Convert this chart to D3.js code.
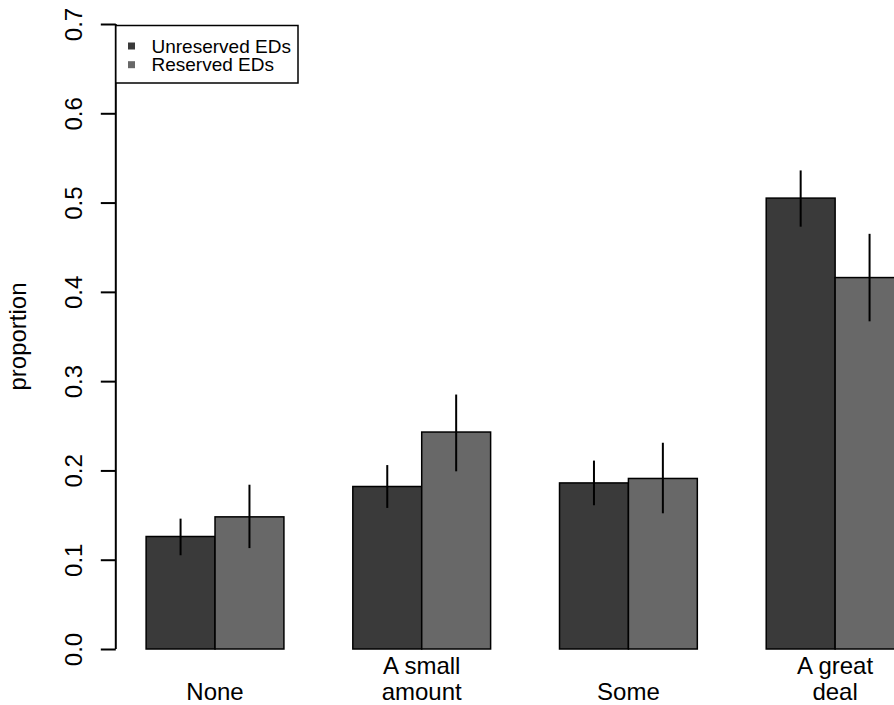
<!DOCTYPE html>
<html>
<head>
<meta charset="utf-8">
<script src="https://cdn.jsdelivr.net/npm/d3@7"></script>
<style>
  html, body { margin: 0; padding: 0; background: #fff; }
  svg { display: block; font-family: "Liberation Sans", Arial, Helvetica, sans-serif; }
</style>
</head>
<body>
<svg id="chart" width="894" height="705"></svg>
<script>
// ---- data ----
const categories = ["None", "A small\namount", "Some", "A great\ndeal"];
const seriesNames = ["Unreserved EDs", "Reserved EDs"];
const unreserved = [0.126, 0.182, 0.186, 0.505];
const reserved   = [0.148, 0.243, 0.191, 0.416];
const unreservedLo = [0.105, 0.158, 0.161, 0.473];
const unreservedHi = [0.146, 0.206, 0.211, 0.536];
const reservedLo   = [0.113, 0.199, 0.152, 0.367];
const reservedHi   = [0.184, 0.285, 0.231, 0.465];
const yTicks = [0, 0.1, 0.2, 0.3, 0.4, 0.5, 0.6, 0.7];

const colors = ["#3a3a3a", "#686868"];

const values = [unreserved, reserved];
const lows = [unreservedLo, reservedLo];
const highs = [unreservedHi, reservedHi];

const svg = d3.select("#chart");

// unit scale (R barplot user coords)
const unitW = 68.9;
const plotLeft = 115.8;
const xu = d3.scaleLinear().domain([0.56, 1]).range([plotLeft, plotLeft + 0.44 * unitW]);

const x0 = d3.scaleBand()
  .domain(categories)
  .range([xu(0), xu(13)])
  .paddingInner(1/3)
  .paddingOuter(1/3);
const x1 = d3.scaleBand().domain(seriesNames).range([0, x0.bandwidth()]);

const y = d3.scaleLinear().domain([0, 0.7]).range([649, 24]);

// bars
const data = [];
categories.forEach((c, i) => {
  seriesNames.forEach((s, j) => {
    data.push({cat: c, ser: s, v: values[j][i], lo: lows[j][i], hi: highs[j][i], j});
  });
});

svg.append("g").selectAll("rect").data(data).enter().append("rect")
  .attr("x", d => x0(d.cat) + x1(d.ser))
  .attr("y", d => y(d.v))
  .attr("width", x1.bandwidth())
  .attr("height", d => y(0) - y(d.v))
  .attr("fill", d => colors[d.j])
  .attr("stroke", "#000")
  .attr("stroke-width", 1.5);

// error bars
svg.append("g").selectAll("line").data(data).enter().append("line")
  .attr("x1", d => x0(d.cat) + x1(d.ser) + x1.bandwidth() / 2)
  .attr("x2", d => x0(d.cat) + x1(d.ser) + x1.bandwidth() / 2)
  .attr("y1", d => y(d.lo))
  .attr("y2", d => y(d.hi))
  .attr("stroke", "#000")
  .attr("stroke-width", 2);

// y axis
const yAxis = d3.axisLeft(y).tickValues(yTicks).tickSize(15).tickPadding(0)
  .tickFormat(d3.format(".1f"));
const gy = svg.append("g").attr("transform", `translate(${plotLeft},0)`).call(yAxis);
gy.select(".domain").attr("d", `M0,${y(0)}V${y(0.7)}`).attr("stroke", "#000").attr("stroke-width", 2);
gy.selectAll(".tick line").attr("stroke", "#000").attr("stroke-width", 2);
gy.selectAll(".tick text")
  .attr("font-size", 24)
  .attr("fill", "#000")
  .attr("text-anchor", "middle")
  .attr("x", null).attr("dy", null)
  .attr("transform", `translate(-34,0) rotate(-90)`)
  .attr("dominant-baseline", "auto")
  .attr("y", 0);
gy.selectAll(".tick text").attr("transform", "translate(-34,0) rotate(-90)").attr("dy", "0em");

// y label
svg.append("text")
  .attr("transform", `translate(26,${(y(0) + y(0.7)) / 2}) rotate(-90)`)
  .attr("text-anchor", "middle")
  .attr("font-size", 24)
  .attr("fill", "#000")
  .text("proportion");

// x labels
const xl = svg.append("g").selectAll("text").data(categories).enter().append("text")
  .attr("text-anchor", "middle")
  .attr("font-size", 24)
  .attr("fill", "#000")
  .attr("x", d => x0(d) + x0.bandwidth() / 2);
xl.each(function(d) {
  const lines = d.split("\n");
  const sel = d3.select(this);
  const base = 700 - (lines.length - 1) * 26;
  lines.forEach((ln, k) => {
    sel.append("tspan").attr("x", x0(d) + x0.bandwidth() / 2).attr("y", base + k * 26).text(ln);
  });
});

// legend
const lg = svg.append("g");
lg.append("rect").attr("x", plotLeft).attr("y", 25.5).attr("width", 298 - plotLeft).attr("height", 57.5)
  .attr("fill", "#fff").attr("stroke", "#000").attr("stroke-width", 1.5);
seriesNames.forEach((s, j) => {
  const cy = 46 + j * 18.7;
  lg.append("rect").attr("x", 128).attr("y", cy - 3.5).attr("width", 7).attr("height", 7).attr("fill", colors[j]);
  lg.append("text").attr("x", 151.5).attr("y", cy + 6.5).attr("font-size", 19).attr("fill", "#000").text(s);
});
</script>
</body>
</html>
